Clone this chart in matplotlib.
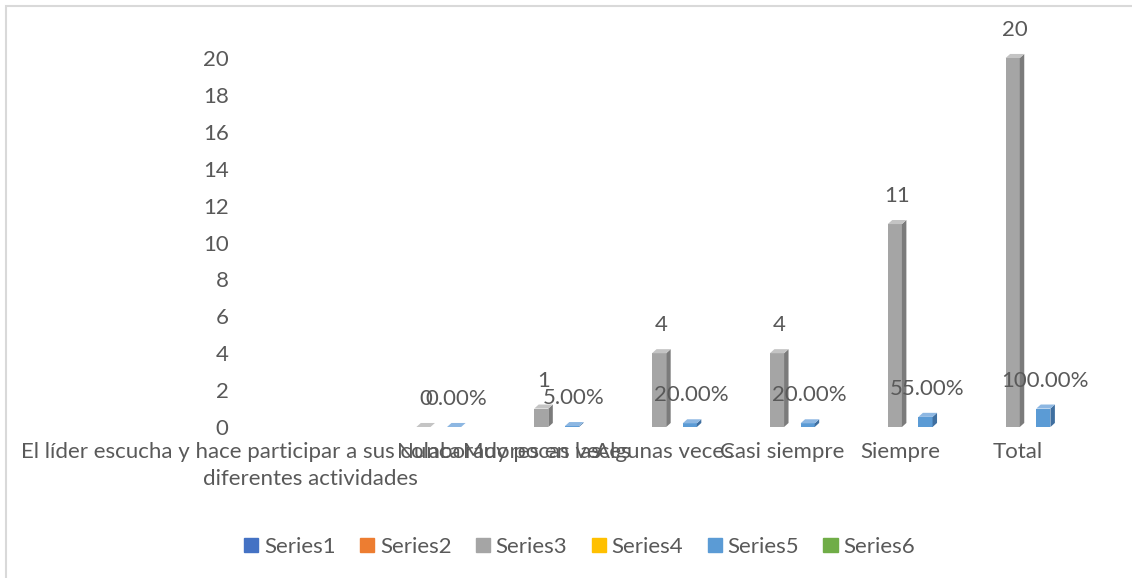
import matplotlib.pyplot as plt
from matplotlib.patches import Polygon, Rectangle
from matplotlib.transforms import ScaledTranslation
import numpy as np

plt.rcParams['font.family'] = ['Lato', 'DejaVu Sans']

categories = [
    "El líder escucha y hace participar a sus colaboradores en las\ndiferentes actividades",
    "Nunca", "Muy pocas veces", "Algunas veces", "Casi siempre", "Siempre", "Total",
]
frecuencia = [np.nan, 0, 1, 4, 4, 11, 20]
porcentaje = [np.nan, 0.0, 0.05, 0.20, 0.20, 0.55, 1.00]
series_names = ["Series1", "Series2", "Series3", "Series4", "Series5", "Series6"]
series_colors = ["#4472C4", "#ED7D31", "#A5A5A5", "#FFC000", "#5B9BD5", "#70AD47"]

TEXT = "#595959"
FS = 16
BAR_W = 0.12          # front face width (data units)
DX, DY = 0.038, 0.22  # fake 3d depth

fig = plt.figure(figsize=(11.32, 5.78), dpi=100)
ax = fig.add_axes([0.2314, 0.2612, 0.7288, 0.6863])

# thin chart-area border
fig.patches.append(Rectangle((0.0055, -0.1), 1.2, 1.09, transform=fig.transFigure,
                             fill=False, edgecolor="#D9D9D9", linewidth=1.5))


def bar3d(x, h, front, side, top):
    x0, x1 = x - BAR_W / 2, x + BAR_W / 2
    ax.add_patch(Polygon([(x0, 0), (x1, 0), (x1, h), (x0, h)], closed=True,
                         facecolor=front, edgecolor="none", zorder=3))
    ax.add_patch(Polygon([(x1, 0), (x1 + DX, DY), (x1 + DX, h + DY), (x1, h)], closed=True,
                         facecolor=side, edgecolor="none", zorder=3))
    ax.add_patch(Polygon([(x0, h), (x1, h), (x1 + DX, h + DY), (x0 + DX, h + DY)], closed=True,
                         facecolor=top, edgecolor="none", zorder=3))


x = np.arange(len(categories))
for i, (f, p) in enumerate(zip(frecuencia, porcentaje)):
    if np.isnan(f):
        continue
    xg, xb = x[i] - 0.13, x[i] + 0.13
    bar3d(xg, f, "#A5A5A5", "#7B7B7B", "#C4C4C4")
    bar3d(xb, p, "#5B9BD5", "#3F6FA0", "#8DB7E2")
    ax.annotate(f"{f:g}", (xg, f), xytext=(2, 28), textcoords="offset pixels",
                ha="center", va="center", fontsize=FS, color=TEXT, annotation_clip=False)
    ax.annotate(f"{p:.2%}", (xb, p), xytext=(2, 28), textcoords="offset pixels",
                ha="center", va="center", fontsize=FS, color=TEXT, annotation_clip=False)

ax.set_xlim(-0.5, len(categories) - 0.5)
ax.set_ylim(0, 21.5)
ax.set_yticks(np.arange(0, 21, 2))
ax.set_xticks(x)
ax.set_xticklabels(categories, fontsize=FS, color=TEXT, linespacing=1.4)
ax.tick_params(axis="y", length=0, pad=24, labelsize=FS, labelcolor=TEXT)
ax.tick_params(axis="x", length=0, pad=11)
shift = ScaledTranslation(-0.1, 0, fig.dpi_scale_trans)
for lbl in ax.get_xticklabels():
    lbl.set_transform(lbl.get_transform() + shift)
for s in ax.spines.values():
    s.set_visible(False)

handles = [Rectangle((0, 0), 1, 1, color=c) for c in series_colors]
fig.legend(handles, series_names, loc="center", bbox_to_anchor=(0.512, 0.054), ncol=6,
           frameon=False, fontsize=FS, labelcolor=TEXT, handlelength=0.64, handleheight=0.64,
           handletextpad=0.25, columnspacing=1.1)

fig.savefig("out.png", dpi=100)
